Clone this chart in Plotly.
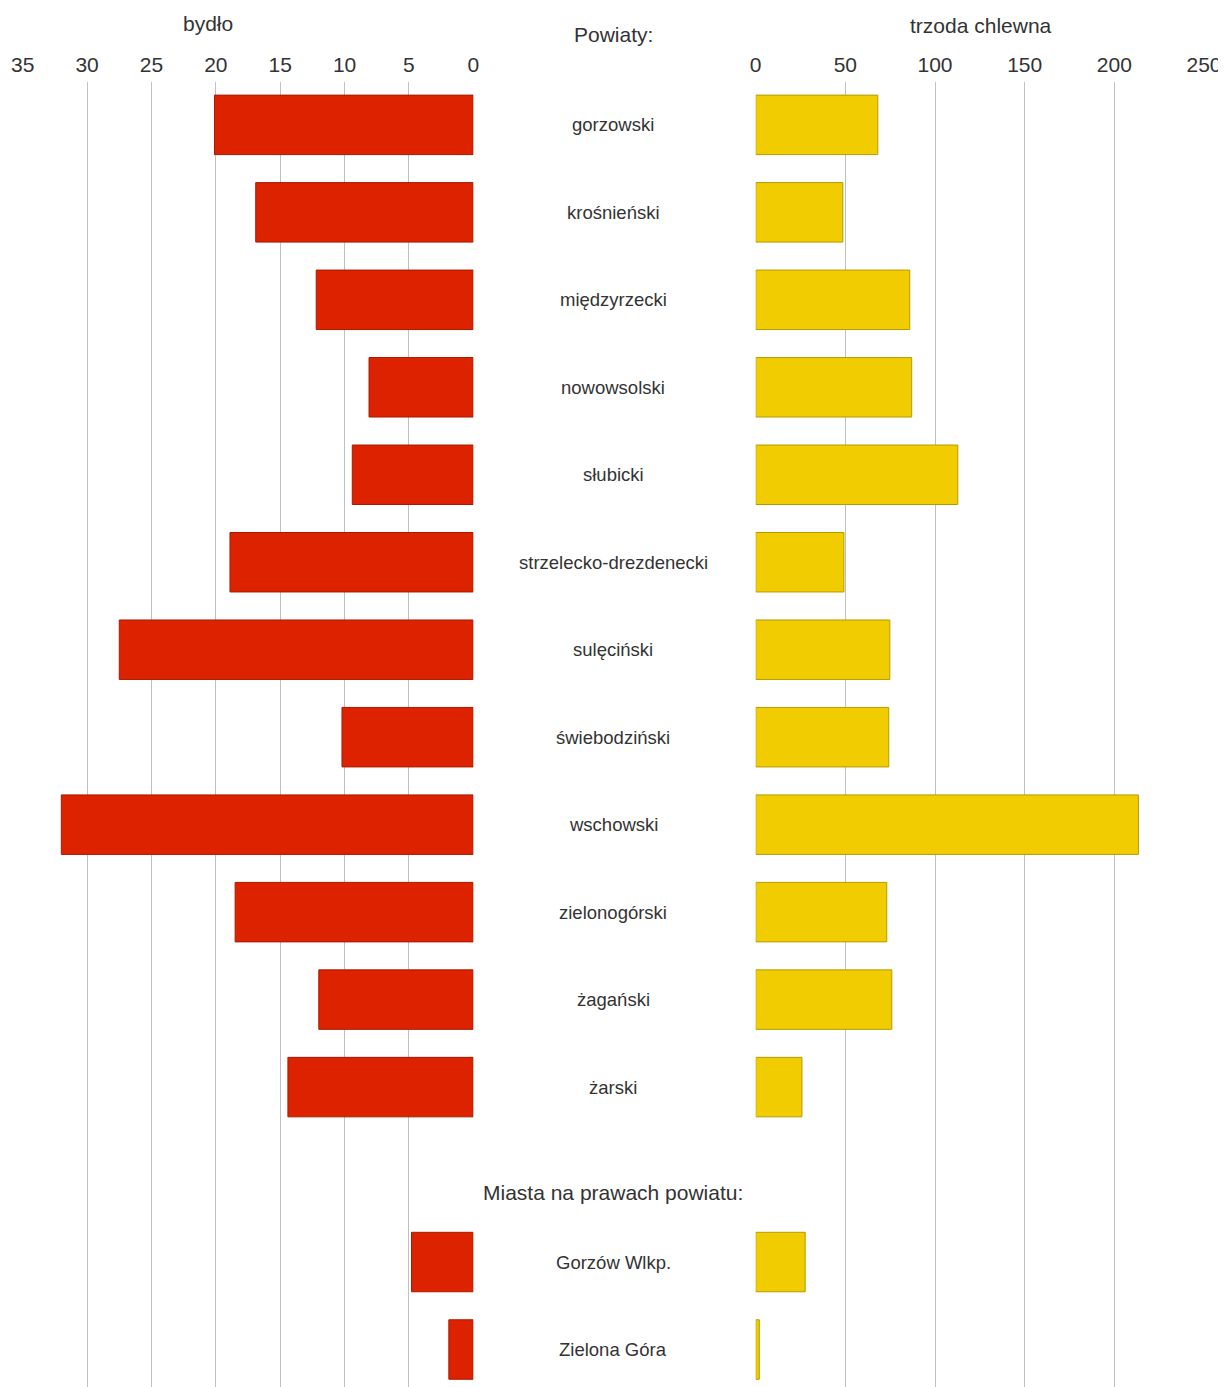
import plotly.graph_objects as go

powiaty = ['gorzowski', 'krośnieński', 'międzyrzecki', 'nowowsolski', 'słubicki',
           'strzelecko-drezdenecki', 'sulęciński', 'świebodziński', 'wschowski',
           'zielonogórski', 'żagański', 'żarski']
miasta_label = 'Miasta na prawach powiatu:'
miasta = ['Gorzów Wlkp.', 'Zielona Góra']

bydlo_powiaty = [20.1, 16.9, 12.2, 8.1, 9.4, 18.9, 27.5, 10.2, 32.0, 18.5, 12.0, 14.4]
bydlo_miasta = [4.8, 1.9]
trzoda_powiaty = [68.1, 48.6, 85.9, 87.0, 112.7, 49.2, 74.8, 74.2, 213.4, 73.1, 75.9, 25.8]
trzoda_miasta = [27.6, 2.0]

bydlo_ticks = [0, 5, 10, 15, 20, 25, 30, 35]
trzoda_ticks = [0, 50, 100, 150, 200, 250]

cats = powiaty + [miasta_label] + miasta
bydlo = bydlo_powiaty + [None] + bydlo_miasta
trzoda = trzoda_powiaty + [None] + trzoda_miasta

W, H = 1226, 1387
OFF = 8  # page body margin
FONT = 'Liberation Sans, Arial, sans-serif'
TXT = '#333333'

fig = go.Figure()
fig.add_trace(go.Bar(x=bydlo, y=cats, orientation='h', xaxis='x', yaxis='y',
                     width=0.68, name='bydło',
                     marker=dict(color='#DD2200', line=dict(color='#A81A00', width=1))))
fig.add_trace(go.Bar(x=trzoda, y=cats, orientation='h', xaxis='x2', yaxis='y',
                     width=0.68, name='trzoda chlewna',
                     marker=dict(color='#F0CC00', line=dict(color='#B89A00', width=1))))

cx = (613 - OFF) / W
ann = []
for c in cats:
    if c == miasta_label:
        ann.append(dict(x=cx, y=c, xref='paper', yref='y', text=c, showarrow=False,
                        xanchor='center', yshift=-18,
                        font=dict(size=21, color=TXT, family=FONT)))
    else:
        ann.append(dict(x=cx, y=c, xref='paper', yref='y', text=c, showarrow=False,
                        xanchor='center', font=dict(size=18.5, color=TXT, family=FONT)))
ann.append(dict(x=(208 - OFF) / W, y=1, yref='paper', xref='paper', xanchor='center',
                yanchor='middle', yshift=59, text='bydło', showarrow=False,
                font=dict(size=21, color=TXT, family=FONT)))
ann.append(dict(x=(981 - OFF) / W, y=1, yref='paper', xref='paper', xanchor='center',
                yanchor='middle', yshift=57, text='trzoda chlewna', showarrow=False,
                font=dict(size=21, color=TXT, family=FONT)))
ann.append(dict(x=cx, y=1, yref='paper', xref='paper', xanchor='center', yanchor='middle',
                yshift=48, text='Powiaty:', showarrow=False,
                font=dict(size=21, color=TXT, family=FONT)))

axis_common = dict(side='top', showgrid=True, gridcolor='#C0C0C0', gridwidth=1,
                   zeroline=False, showline=False, ticks='', anchor='y', automargin=False,
                   ticklabelstandoff=5, tickfont=dict(size=21, color=TXT, family=FONT))

fig.update_layout(
    width=W, height=H,
    margin=dict(l=0, r=0, t=82 - OFF, b=0),
    paper_bgcolor='white', plot_bgcolor='white',
    showlegend=False, barmode='overlay',
    font=dict(family=FONT, color=TXT),
    xaxis=dict(domain=[(22.7 - OFF) / W, (473.3 - OFF) / W], range=[35, 0],
               tickvals=bydlo_ticks, **axis_common),
    xaxis2=dict(domain=[(755.7 - OFF) / W, (1204 - OFF) / W], range=[0, 250],
                tickvals=trzoda_ticks, **axis_common),
    yaxis=dict(range=[14.52, -0.49], showticklabels=False, showgrid=False, automargin=False,
               zeroline=False, showline=False, ticks='', categoryorder='array',
               categoryarray=cats),
    annotations=ann,
)

fig.write_html('out.html')
